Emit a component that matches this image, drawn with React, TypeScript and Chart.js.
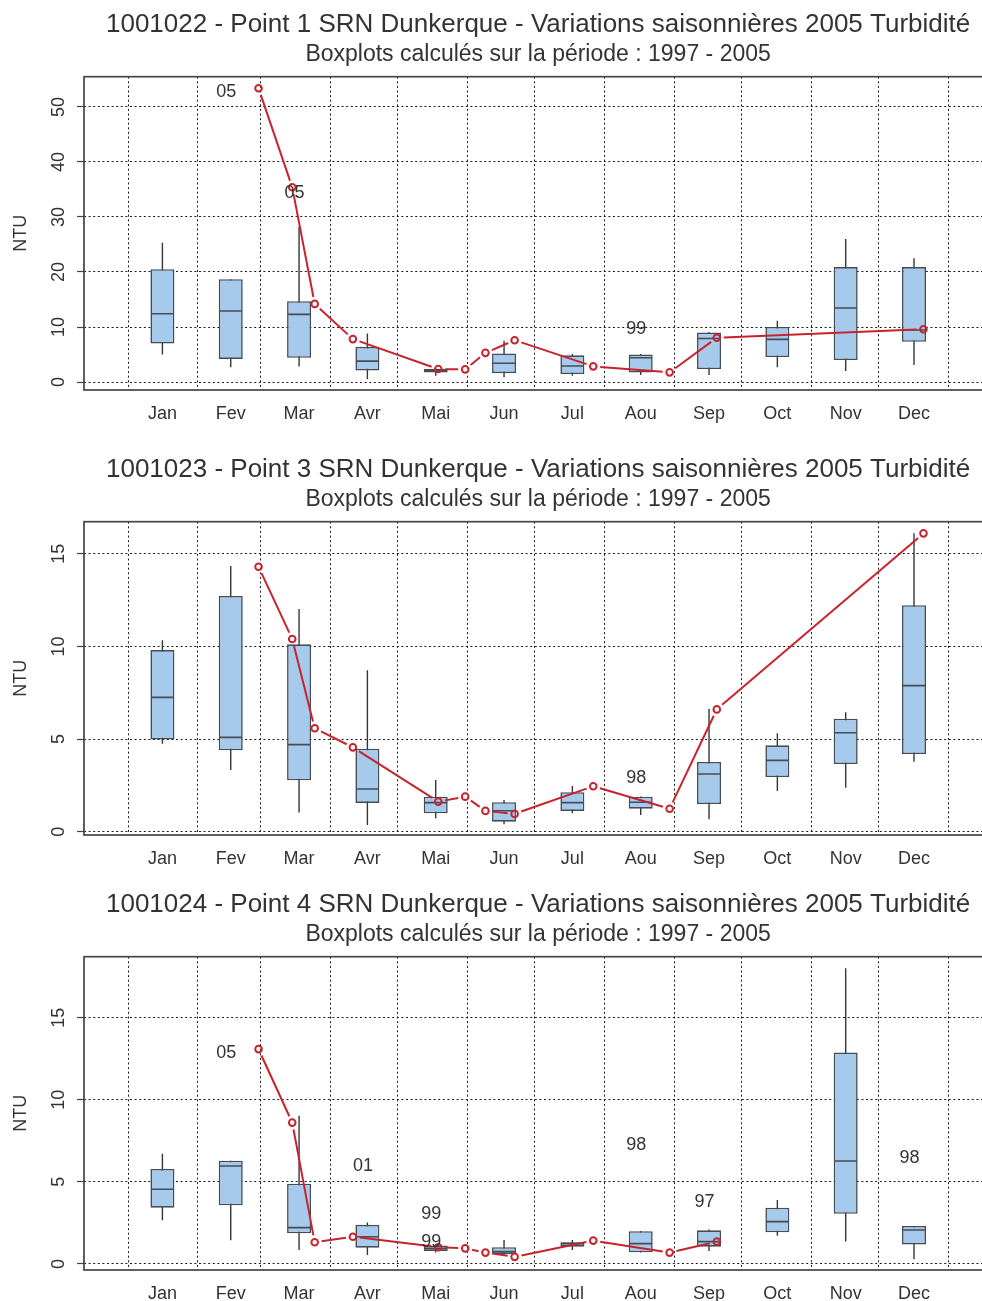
import React, { useEffect, useRef } from 'react';
import { Chart, registerables } from 'chart.js';

Chart.register(...registerables);

const FONT = '"Liberation Sans", Arial, Helvetica, sans-serif';
const TEXT = '#333333';
const RED = '#C8232C';
const BOX_FILL = '#A6CAEC';
const BOX_LINE = '#454C56';
const GRID = '#1a1a1a';

const MONTHS = ['Jan', 'Fev', 'Mar', 'Avr', 'Mai', 'Jun', 'Jul', 'Aou', 'Sep', 'Oct', 'Nov', 'Dec'];
const SUBTITLE = 'Boxplots calculés sur la période : 1997 - 2005';

// 2005 sampling dates (month-day)
const SAMPLE_DATES = ['02-28', '03-15', '03-25', '04-11', '05-19', '05-31', '06-09', '06-22', '07-27', '08-30', '09-20', '12-21'];

// ---- 1001022 - Point 1 ----
const P1_TITLE = '1001022 - Point 1 SRN Dunkerque - Variations saisonnières 2005 Turbidité';
const P1_LOW = [5.0, 2.7, 2.8, 0.5, 1.15, 0.85, 1.15, 1.27, 1.27, 2.7, 2.0, 3.1];
const P1_Q1 = [7.0, 4.2, 4.4, 2.1, 1.75, 1.6, 1.45, 1.75, 2.36, 4.55, 4.0, 7.3];
const P1_MEDIAN = [12.4, 12.9, 12.3, 3.8, 2.05, 3.4, 2.9, 4.4, 7.9, 7.75, 13.45, 9.45];
const P1_Q3 = [20.5, 18.7, 14.7, 6.4, 2.4, 5.2, 4.85, 5.0, 9.0, 10.0, 20.9, 20.9];
const P1_HIGH = [25.3, 18.7, 28.2, 8.8, 2.5, 7.5, 5.1, 5.1, 9.1, 11.15, 26.0, 22.5];
const P1_SAMPLES = [53.4, 35.4, 14.2, 7.8, 2.36, 2.3, 5.3, 7.6, 2.85, 1.76, 8.05, 9.6];
const P1_Y_TICKS = [0, 10, 20, 30, 40, 50];
const P1_Y_RANGE = [-1.45, 55.5];
const P1_OUTLIER_MONTHS = [1, 2, 7];
const P1_OUTLIER_VALUES = [52.8, 34.4, 9.6];
const P1_OUTLIER_YEARS = ['05', '05', '99'];

// ---- 1001023 - Point 3 ----
const P2_TITLE = '1001023 - Point 3 SRN Dunkerque - Variations saisonnières 2005 Turbidité';
const P2_LOW = [4.75, 3.33, 1.03, 0.36, 0.72, 0.4, 0.99, 0.9, 0.67, 2.2, 2.37, 3.78];
const P2_Q1 = [4.98, 4.39, 2.77, 1.55, 0.99, 0.54, 1.12, 1.24, 1.49, 2.95, 3.65, 4.19];
const P2_MEDIAN = [7.25, 5.09, 4.7, 2.3, 1.57, 1.13, 1.57, 1.59, 3.11, 3.85, 5.34, 7.88];
const P2_Q3 = [9.8, 12.72, 10.11, 4.48, 1.89, 1.59, 2.13, 1.89, 3.76, 4.66, 6.1, 12.22];
const P2_HIGH = [10.33, 14.34, 12.02, 8.71, 2.79, 1.71, 2.47, 1.9, 6.62, 5.31, 6.44, 16.1];
const P2_SAMPLES = [14.3, 10.4, 5.58, 4.55, 1.62, 1.89, 1.12, 0.96, 2.45, 1.24, 6.6, 16.1];
const P2_Y_TICKS = [0, 5, 10, 15];
const P2_Y_RANGE = [-0.18, 16.73];
const P2_OUTLIER_MONTHS = [7];
const P2_OUTLIER_VALUES = [2.88];
const P2_OUTLIER_YEARS = ['98'];

// ---- 1001024 - Point 4 ----
const P3_TITLE = '1001024 - Point 4 SRN Dunkerque - Variations saisonnières 2005 Turbidité';
const P3_LOW = [2.66, 1.44, 0.85, 0.55, 0.7, 0.51, 0.85, 0.7, 0.79, 1.71, 1.36, 0.29];
const P3_Q1 = [3.43, 3.57, 1.87, 0.99, 0.79, 0.61, 1.05, 0.71, 1.05, 1.93, 3.05, 1.18];
const P3_MEDIAN = [4.55, 5.97, 2.21, 1.66, 0.95, 0.75, 1.24, 1.24, 1.36, 2.58, 6.27, 2.07];
const P3_Q3 = [5.79, 6.29, 4.89, 2.38, 1.12, 1.02, 1.32, 1.99, 2.05, 3.43, 12.89, 2.31];
const P3_HIGH = [6.72, 6.29, 9.03, 2.52, 1.2, 1.46, 1.46, 2.0, 2.1, 3.9, 18.01, 2.31];
const P3_SAMPLES = [13.09, 8.61, 1.32, 1.66, 1.02, 0.95, 0.69, 0.43, 1.42, 0.69, 1.36];
const P3_Y_TICKS = [0, 5, 10, 15];
const P3_Y_RANGE = [-0.37, 18.72];
const P3_OUTLIER_MONTHS = [1, 3, 4, 4, 7, 8, 11];
const P3_OUTLIER_VALUES = [12.87, 5.99, 3.05, 1.36, 7.25, 3.8, 6.47];
const P3_OUTLIER_YEARS = ['05', '01', '99', '99', '98', '97', '98'];

// x axis is expressed in days since 1 January 2005
const X_RANGE = [-19.7, 384.6];
const dayOfYear = (md: string) => {
  const [m, d] = md.split('-').map(Number);
  return (Date.UTC(2005, m - 1, d) - Date.UTC(2005, 0, 1)) / 86400000;
};
const MONTH_STARTS = Array.from({ length: 13 }, (_, i) => (Date.UTC(2005, i, 1) - Date.UTC(2005, 0, 1)) / 86400000);
const BOX_CENTERS = MONTHS.map((_, i) => ((i + 0.5) * 365) / 12);

const PANELS = [
  { title: P1_TITLE, low: P1_LOW, q1: P1_Q1, med: P1_MEDIAN, q3: P1_Q3, high: P1_HIGH, samples: P1_SAMPLES, yTicks: P1_Y_TICKS, yRange: P1_Y_RANGE, oMonths: P1_OUTLIER_MONTHS, oValues: P1_OUTLIER_VALUES, oYears: P1_OUTLIER_YEARS },
  { title: P2_TITLE, low: P2_LOW, q1: P2_Q1, med: P2_MEDIAN, q3: P2_Q3, high: P2_HIGH, samples: P2_SAMPLES, yTicks: P2_Y_TICKS, yRange: P2_Y_RANGE, oMonths: P2_OUTLIER_MONTHS, oValues: P2_OUTLIER_VALUES, oYears: P2_OUTLIER_YEARS },
  { title: P3_TITLE, low: P3_LOW, q1: P3_Q1, med: P3_MEDIAN, q3: P3_Q3, high: P3_HIGH, samples: P3_SAMPLES, yTicks: P3_Y_TICKS, yRange: P3_Y_RANGE, oMonths: P3_OUTLIER_MONTHS, oValues: P3_OUTLIER_VALUES, oYears: P3_OUTLIER_YEARS },
];

const PANEL_TOPS = [0, 445, 880];
const CANVAS_W = 1005;
const CANVAS_H = 445;

function makeChart(canvas: HTMLCanvasElement, p: any) {
  // sample line drawn as separate segments that stop short of each circle
  const gappedLine = {
    id: 'gappedLine',
    afterDatasetsDraw(chart: any) {
      const { ctx, chartArea } = chart;
      chart.data.datasets.forEach((ds: any, i: number) => {
        if (!ds.gapped) return;
        const pts = chart.getDatasetMeta(i).data;
        ctx.save();
        ctx.beginPath();
        ctx.rect(chartArea.left, chartArea.top, chartArea.right - chartArea.left, chartArea.bottom - chartArea.top);
        ctx.clip();
        ctx.strokeStyle = RED;
        ctx.lineWidth = 2;
        const gap = 7;
        for (let k = 1; k < pts.length; k++) {
          const a = pts[k - 1];
          const b = pts[k];
          const dx = b.x - a.x;
          const dy = b.y - a.y;
          const len = Math.hypot(dx, dy);
          if (len <= gap * 2) continue;
          const ux = dx / len;
          const uy = dy / len;
          ctx.beginPath();
          ctx.moveTo(a.x + ux * gap, a.y + uy * gap);
          ctx.lineTo(b.x - ux * gap, b.y - uy * gap);
          ctx.stroke();
        }
        ctx.restore();
      });
    },
  };

  // year of each outlying value, written beside its month
  const yearLabels = {
    id: 'yearLabels',
    afterDatasetsDraw(chart: any) {
      const { ctx } = chart;
      const xs = chart.scales.x;
      const ys = chart.scales.y;
      ctx.save();
      ctx.fillStyle = TEXT;
      ctx.font = `18px ${FONT}`;
      ctx.textAlign = 'center';
      ctx.textBaseline = 'middle';
      p.oMonths.forEach((m: number, i: number) => {
        const x = xs.getPixelForValue(BOX_CENTERS[m]) - 4.5;
        const y = ys.getPixelForValue(p.oValues[i]);
        ctx.fillText(p.oYears[i], x, y);
      });
      ctx.restore();
    },
  };

  // vertical (rotated) y tick labels
  const yTickLabels = {
    id: 'yTickLabels',
    afterDraw(chart: any) {
      const { ctx } = chart;
      const ys = chart.scales.y;
      ctx.save();
      ctx.fillStyle = TEXT;
      ctx.font = `18px ${FONT}`;
      ctx.textAlign = 'center';
      ctx.textBaseline = 'middle';
      ys.ticks.forEach((t: any) => {
        const py = ys.getPixelForValue(t.value);
        ctx.save();
        ctx.translate(58.8, py);
        ctx.rotate(-Math.PI / 2);
        ctx.fillText(String(t.value), 0, 0);
        ctx.restore();
      });
      ctx.restore();
    },
  };

  // box around the plotting region
  const frame = {
    id: 'frame',
    afterDraw(chart: any) {
      const { ctx, chartArea } = chart;
      ctx.save();
      ctx.strokeStyle = '#454545';
      ctx.lineWidth = 1.7;
      ctx.strokeRect(chartArea.left, chartArea.top, chartArea.right - chartArea.left, chartArea.bottom - chartArea.top);
      ctx.restore();
    },
  };

  const whiskers = BOX_CENTERS.map((c, i) => ({ x: c, y: [p.low[i], p.high[i]] }));
  const boxes = BOX_CENTERS.map((c, i) => ({ x: c, y: [p.q1[i], p.q3[i]] }));
  const medians = BOX_CENTERS.map((c, i) => ({ x: c, y: p.med[i] }));
  const samples = p.samples.map((v: number, i: number) => ({ x: dayOfYear(SAMPLE_DATES[i]), y: v }));

  return new Chart(canvas, {
    type: 'scatter',
    data: {
      datasets: [
        {
          type: 'bar',
          data: whiskers,
          backgroundColor: '#33373d',
          borderWidth: 0,
          maxBarThickness: 1.4,
          barPercentage: 0.9,
          grouped: false,
          order: 4,
        } as any,
        {
          type: 'bar',
          data: boxes,
          backgroundColor: BOX_FILL,
          borderColor: BOX_LINE,
          borderWidth: 1.6,
          borderSkipped: false,
          maxBarThickness: 24,
          barPercentage: 0.9,
          grouped: false,
          order: 3,
        } as any,
        {
          type: 'scatter',
          data: medians,
          pointStyle: 'line',
          pointRadius: 11.2,
          pointBorderWidth: 1.6,
          pointBorderColor: BOX_LINE,
          showLine: false,
          order: 2,
        } as any,
        {
          type: 'scatter',
          data: samples,
          pointRadius: 3.3,
          pointBorderWidth: 2,
          pointBorderColor: RED,
          pointBackgroundColor: 'rgba(0,0,0,0)',
          showLine: false,
          gapped: true,
          order: 1,
        } as any,
      ],
    },
    options: {
      animation: false,
      responsive: false,
      events: [],
      layout: { padding: { left: 0, right: 3, top: 0, bottom: 0 } },
      plugins: {
        legend: { display: false },
        tooltip: { enabled: false },
        title: {
          display: true,
          text: p.title,
          color: TEXT,
          fullSize: false,
          font: { family: FONT, size: 26, weight: 'normal', lineHeight: 1.2 },
          padding: { top: 9.4, bottom: 0 },
        },
        subtitle: {
          display: true,
          text: SUBTITLE,
          color: TEXT,
          fullSize: false,
          font: { family: FONT, size: 23, weight: 'normal', lineHeight: 1.2 },
          padding: { top: 0.6, bottom: 7.9 },
        },
      },
      scales: {
        x: {
          type: 'linear',
          position: 'bottom',
          min: X_RANGE[0],
          max: X_RANGE[1],
          offset: false,
          weight: 0,
          afterBuildTicks: (s: any) => {
            s.ticks = MONTH_STARTS.map((v) => ({ value: v }));
          },
          afterFit: (s: any) => {
            s.height = 0;
          },
          ticks: { display: false },
          grid: { color: GRID, lineWidth: 1, drawTicks: false, offset: false },
          border: { display: false, dash: [2, 2.6] },
        },
        months: {
          type: 'linear',
          position: 'bottom',
          min: X_RANGE[0],
          max: X_RANGE[1],
          offset: false,
          weight: 1,
          afterBuildTicks: (s: any) => {
            s.ticks = BOX_CENTERS.map((v) => ({ value: v }));
          },
          afterFit: (s: any) => {
            s.height = 55;
          },
          ticks: {
            autoSkip: false,
            maxRotation: 0,
            minRotation: 0,
            padding: 5,
            color: TEXT,
            font: { family: FONT, size: 18 },
            callback: (_v: any, i: number) => MONTHS[i],
          },
          grid: { display: false, offset: false },
          border: { display: false },
        },
        y: {
          type: 'linear',
          position: 'left',
          min: p.yRange[0],
          max: p.yRange[1],
          beginAtZero: false,
          afterBuildTicks: (s: any) => {
            s.ticks = p.yTicks.map((v: number) => ({ value: v }));
          },
          afterFit: (s: any) => {
            s.width = 84;
          },
          ticks: { display: false },
          grid: { color: GRID, lineWidth: 1, drawTicks: true, tickLength: 7, tickColor: '#444', tickWidth: 1.2 },
          border: { display: false, dash: [2, 2.6] },
          title: {
            display: true,
            text: 'NTU',
            color: TEXT,
            font: { family: FONT, size: 18 },
            padding: { top: 10.5, bottom: 0 },
          },
        },
      },
    } as any,
    plugins: [gappedLine, yearLabels, yTickLabels, frame],
  });
}

function Panel({ panel, top }: { panel: any; top: number }) {
  const ref = useRef<HTMLCanvasElement | null>(null);
  useEffect(() => {
    if (!ref.current) return;
    const chart = makeChart(ref.current, panel);
    return () => chart.destroy();
  }, [panel]);
  return (
    <canvas
      ref={ref}
      width={CANVAS_W}
      height={CANVAS_H}
      style={{ position: 'absolute', left: 0, top, width: CANVAS_W, height: CANVAS_H, display: 'block' }}
    />
  );
}

export default function App() {
  return (
    <div
      style={{
        position: 'absolute',
        left: 0,
        top: 0,
        width: 982,
        height: 1301,
        overflow: 'hidden',
        background: '#ffffff',
      }}
    >
      {PANELS.map((p, i) => (
        <Panel key={i} panel={p} top={PANEL_TOPS[i]} />
      ))}
    </div>
  );
}
